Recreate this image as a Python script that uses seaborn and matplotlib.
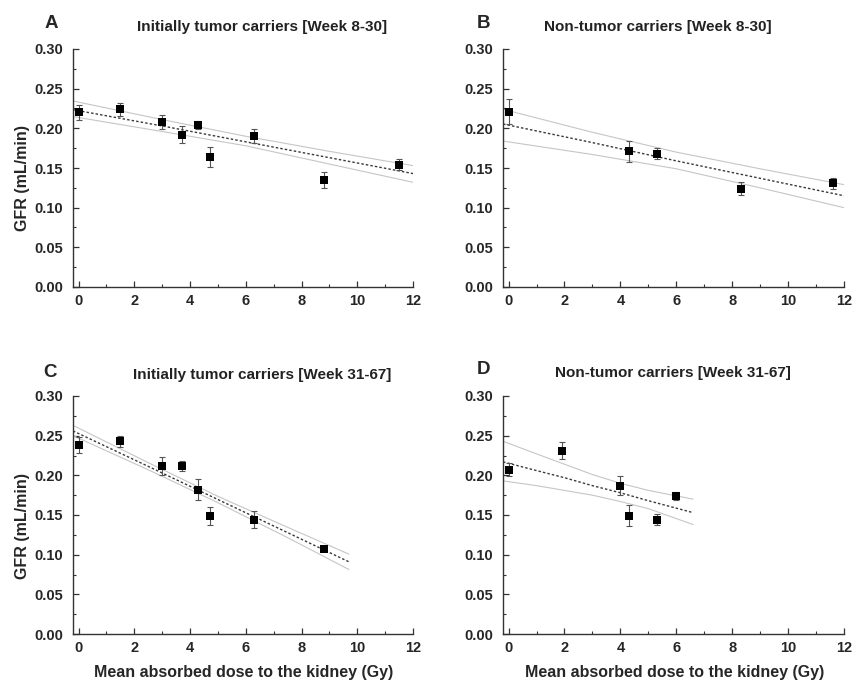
import numpy as np
import pandas as pd
import seaborn as sns
import matplotlib.pyplot as plt
from matplotlib.ticker import MultipleLocator

# -------------------- Data --------------------
# A: initially tumor carriers, week 8-30
A_dose = [0, 1.5, 3.0, 3.7, 4.3, 4.7, 6.3, 8.8, 11.5]
A_gfr = [0.220, 0.224, 0.208, 0.192, 0.204, 0.164, 0.190, 0.135, 0.154]
A_err = [0.009, 0.008, 0.009, 0.011, 0.005, 0.013, 0.009, 0.010, 0.007]
A_fit_x = [-0.2, 3, 6, 9, 12]
A_fit = [0.2235, 0.203, 0.183, 0.163, 0.143]
A_upper = [0.2345, 0.211, 0.190, 0.171, 0.153]
A_lower = [0.2148, 0.196, 0.178, 0.155, 0.132]

# B: non-tumor carriers, week 8-30
B_dose = [0, 4.3, 5.3, 8.3, 11.6]
B_gfr = [0.221, 0.171, 0.168, 0.124, 0.131]
B_err = [0.016, 0.013, 0.007, 0.008, 0.007]
B_fit_x = [-0.2, 3, 6, 9, 12]
B_fit = [0.2055, 0.182, 0.159, 0.137, 0.115]
B_upper = [0.224, 0.195, 0.170, 0.149, 0.129]
B_lower = [0.184, 0.167, 0.149, 0.125, 0.100]

# C: initially tumor carriers, week 31-67
C_dose = [0, 1.5, 3.0, 3.7, 4.3, 4.7, 6.3, 8.8]
C_gfr = [0.238, 0.243, 0.212, 0.212, 0.182, 0.149, 0.144, 0.107]
C_err = [0.010, 0.007, 0.011, 0.006, 0.013, 0.011, 0.011, 0.002]
C_fit_x = [-0.2, 2.5, 5, 7.5, 9.7]
C_fit = [0.2560, 0.2113, 0.1695, 0.1278, 0.0910]
C_upper = [0.2630, 0.2160, 0.1735, 0.1345, 0.1007]
C_lower = [0.2500, 0.2070, 0.1655, 0.1215, 0.0813]

# D: non-tumor carriers, week 31-67
D_dose = [0, 1.9, 4.0, 4.3, 5.3, 6.0]
D_gfr = [0.207, 0.231, 0.187, 0.149, 0.144, 0.174]
D_err = [0.008, 0.011, 0.012, 0.013, 0.007, 0.005]
D_fit_x = [-0.2, 1.0, 2.0, 3.0, 4.0, 5.0, 6.6]
D_fit = [0.217, 0.206, 0.197, 0.187, 0.178, 0.168, 0.153]
D_upper = [0.243, 0.227, 0.214, 0.201, 0.190, 0.181, 0.170]
D_lower = [0.193, 0.187, 0.181, 0.175, 0.167, 0.158, 0.138]

titles = ['Initially tumor carriers [Week 8-30]', 'Non-tumor carriers [Week 8-30]',
          'Initially tumor carriers [Week 31-67]', 'Non-tumor carriers [Week 31-67]']
letters = ['A', 'B', 'C', 'D']
xlabel = 'Mean absorbed dose to the kidney (Gy)'
ylabel = 'GFR (mL/min)'

# -------------------- Style --------------------
sns.set_theme(style='ticks')
plt.rcParams['font.family'] = ['Liberation Sans', 'DejaVu Sans']
plt.rcParams['font.weight'] = 'bold'

fig = plt.figure(figsize=(8.55, 6.84), dpi=100)
W, H = 855, 684

# axes boxes in pixels: left, top, right, bottom
boxes = [(73, 49, 413, 287), (503, 49, 844, 287),
         (73, 396, 413, 634), (503, 396, 844, 634)]
panels = [
    (A_dose, A_gfr, A_err, A_fit_x, A_fit, A_upper, A_lower),
    (B_dose, B_gfr, B_err, B_fit_x, B_fit, B_upper, B_lower),
    (C_dose, C_gfr, C_err, C_fit_x, C_fit, C_upper, C_lower),
    (D_dose, D_gfr, D_err, D_fit_x, D_fit, D_upper, D_lower),
]

for i, (box, p) in enumerate(zip(boxes, panels)):
    l, t, r, b = box
    ax = fig.add_axes([l / W, 1 - b / H, (r - l) / W, (b - t) / H])
    dose, gfr, err, fx, fy, fu, fl = p
    pts = pd.DataFrame({'dose': dose, 'gfr': gfr, 'err': err})
    fit = pd.DataFrame({'x': fx, 'fit': fy, 'upper': fu, 'lower': fl})

    # confidence band + fitted line
    sns.lineplot(data=fit, x='x', y='upper', ax=ax, color='#c6c6c6', lw=0.8, sort=False)
    sns.lineplot(data=fit, x='x', y='lower', ax=ax, color='#c6c6c6', lw=0.8, sort=False)
    sns.lineplot(data=fit, x='x', y='fit', ax=ax, color='#3a3a3a', lw=1.0,
                 linestyle=(0, (1.8, 1.5)), sort=False)

    # error bars and squares
    ax.errorbar(pts['dose'], pts['gfr'], yerr=pts['err'], fmt='none',
                ecolor='#555555', elinewidth=0.8, capsize=2.5, capthick=0.8, zorder=3)
    sns.scatterplot(data=pts, x='dose', y='gfr', ax=ax, marker='s', color='black',
                    s=30, edgecolor='black', linewidth=0, zorder=4)

    ax.set_xlim(-0.2, 12)
    ax.set_ylim(0, 0.30)
    ax.xaxis.set_major_locator(MultipleLocator(2))
    ax.xaxis.set_minor_locator(MultipleLocator(1))
    ax.yaxis.set_major_locator(MultipleLocator(0.05))
    ax.yaxis.set_minor_locator(MultipleLocator(0.025))
    ax.set_yticklabels([f'{v:.2f}' for v in ax.get_yticks()])
    ax.tick_params(which='major', direction='in', length=4, width=0.9, color='#333333',
                   labelsize=10.5, pad=7)
    ax.tick_params(which='minor', direction='in', length=2.5, width=0.8, color='#333333')
    ax.tick_params(axis='x', pad=5)
    for lab in ax.get_xticklabels() + ax.get_yticklabels():
        lab.set_fontweight('bold')
    sns.despine(ax=ax)
    for s in ['left', 'bottom']:
        ax.spines[s].set_color('#333333')
        ax.spines[s].set_linewidth(1.0)
    ax.set_xlabel('')
    ax.set_ylabel('')

# -------------------- Text --------------------
letter_pos = [(45, 24), (477, 24), (43, 373), (477, 369)]
title_pos = [(262, 27), (658, 27), (262, 375), (673, 373)]
for k in range(4):
    fig.text(letter_pos[k][0] / W, 1 - letter_pos[k][1] / H, letters[k],
             fontsize=13.5, fontweight='bold', va='center', ha='left')
    fig.text(title_pos[k][0] / W, 1 - title_pos[k][1] / H, titles[k],
             fontsize=11, fontweight='bold', va='center', ha='center', color='#222222')

for yc in [178, 526]:
    fig.text(23 / W, 1 - yc / H, ylabel, rotation=90, fontsize=11.5,
             fontweight='bold', va='center', ha='center')
for xc in [244, 675]:
    fig.text(xc / W, 1 - 673 / H, xlabel, fontsize=11.5,
             fontweight='bold', va='center', ha='center')

fig.savefig('out.png', dpi=100)
